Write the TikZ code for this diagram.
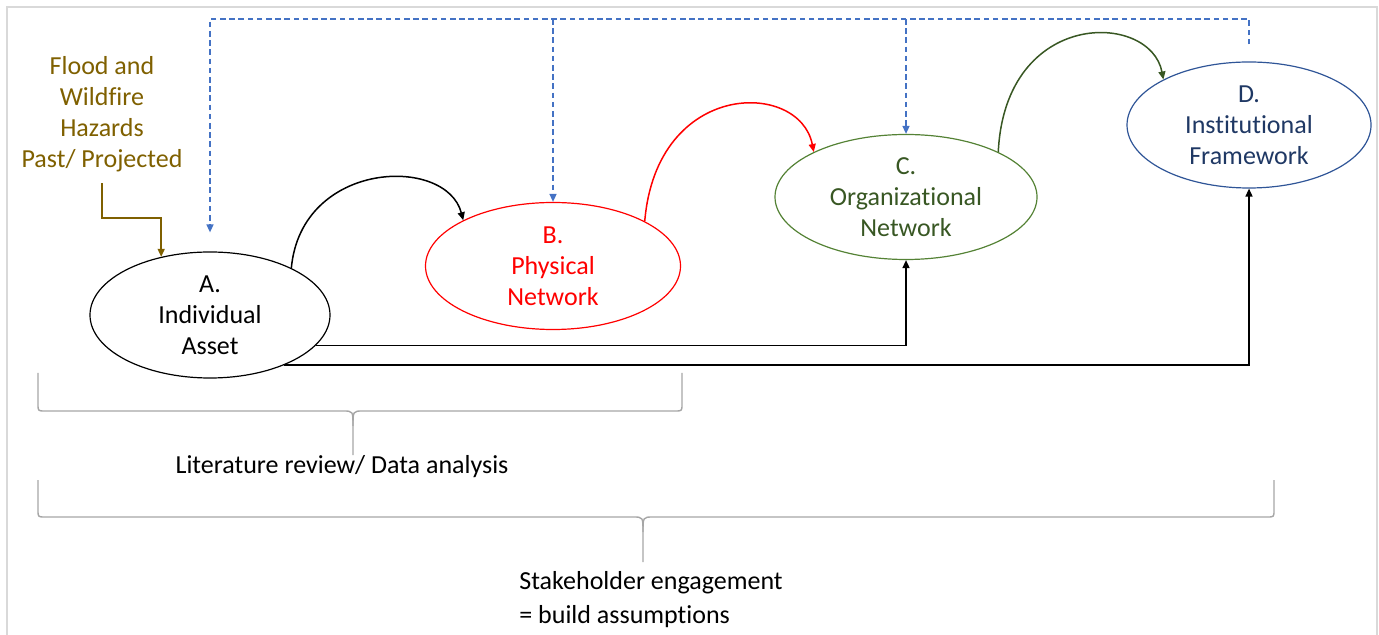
\documentclass[tikz,border=0pt]{standalone}
\usepackage{fontspec}
\setmainfont{Carlito}[Ligatures={NoCommon,NoContextual,NoRare}, Contextuals={NoAlternate}]
\usepackage{tikz}
\usetikzlibrary{shapes.geometric, arrows.meta, positioning, calc}
\definecolor{mydark}{RGB}{0,0,0}
\definecolor{myred}{RGB}{255,0,0}
\definecolor{mygreen}{RGB}{84,130,53}
\definecolor{txtgreen}{RGB}{56,87,35}
\definecolor{myblue}{RGB}{47,85,151}
\definecolor{txtblue}{RGB}{31,56,100}
\definecolor{mydash}{RGB}{68,114,196}
\definecolor{mybrown}{RGB}{127,96,0}
\definecolor{mygray}{RGB}{166,166,166}
\definecolor{lightgray}{RGB}{217,217,217}
\tikzset{
  stage/.style={ellipse, line width=0.6pt, inner sep=0pt, align=center,
    font={\fontsize{13pt}{15.5pt}\selectfont}},
  assetnode/.style={stage, draw=mydark, text=mydark},
  physnode/.style={stage, draw=myred, text=myred},
  orgnode/.style={stage, draw=mygreen, text=txtgreen},
  instnode/.style={stage, draw=myblue, text=txtblue},
  hazard/.style={inner sep=0pt, align=center, text=mybrown,
    font={\fontsize{13pt}{15.5pt}\selectfont}},
  note/.style={inner sep=0pt, font={\fontsize{13pt}{17pt}\selectfont}},
  tip/.style={-{Triangle[length=4pt, width=3.5pt]}},
  arrow/.style={tip, line width=0.75pt, color=mydark},
  redarrow/.style={tip, line width=0.75pt, color=myred},
  greenarrow/.style={tip, line width=0.75pt, color=txtgreen},
  hazarrow/.style={tip, line width=0.75pt, color=mybrown},
  fbarrow/.style={tip, line width=0.75pt, color=mydash, dash pattern=on 2.8pt off 1.8pt},
  bracket/.style={line width=0.7pt, color=mygray},
  frame/.style={line width=0.8pt, color=lightgray}
}

\begin{document}
\begin{tikzpicture}[x=0.5pt, y=-0.5pt]
  \useasboundingbox (0,0) rectangle (1379,635);
  \draw[frame] (7,640) -- (7,7) -- (1377,7) -- (1377,640);

  % Stages
  \node[assetnode, minimum width=120pt, minimum height=63pt] (A) at (210,315) {A.\\Individual\\Asset};
  \node[physnode, minimum width=127.5pt, minimum height=63.5pt] (B) at (553,266) {B.\\Physical\\Network};
  \node[orgnode, minimum width=131pt, minimum height=62.5pt] (C) at (906,197) {C.\\Organizational\\Network};
  \node[instnode, minimum width=122pt, minimum height=63pt] (D) at (1249,125) {D.\\Institutional\\Framework};

  % Hazard input
  \node[hazard] (haz) at (102,114) {Flood and\\Wildfire\\Hazards\\Past/ Projected};
  \draw[hazarrow] ([yshift=-5.5pt]haz.south) -- ++(0,35) -| (A.130);

  % Progression A -> B -> C -> D
  \draw[arrow] (A.30) .. controls +(10,-108) and +(-17,-65) .. (B.153);
  \draw[redarrow] (B.26) .. controls +(12,-142) and +(-14,-72) .. (C.154);
  \draw[greenarrow] (C.26) .. controls +(7,-144) and +(-13,-68) .. (D.152);

  % Direct links from A
  \draw[arrow] (A.-16) -| (C.south);
  \draw[arrow] (A.-34) -| (D.south);

  % Feedback from D
  \coordinate (fb) at (0,19);
  \draw[fbarrow] ([yshift=8.5pt]D.north) -- (D.north |- fb) -| ([yshift=9.5pt]A.north);
  \draw[fbarrow] (B.north |- fb) -- (B.north);
  \draw[fbarrow] (C.north |- fb) -- (C.north);

  % Braces
  \draw[bracket] (38,373) -- (38,404) .. controls (38,411) .. (45,411) -- (343,411)
    .. controls (353,411) .. (353,426) -- (353,455);
  \draw[bracket] (353,426) .. controls (353,411) .. (363,411) -- (675,411)
    .. controls (682,411) .. (682,404) -- (682,373);
  \draw[bracket] (38,480) -- (38,510) .. controls (38,517) .. (45,517) -- (633,517)
    .. controls (643,517) .. (643,532) -- (643,562);
  \draw[bracket] (643,532) .. controls (643,517) .. (653,517) -- (1267,517)
    .. controls (1274,517) .. (1274,510) -- (1274,480);

  % Labels
  \node[note] (lit) at (342,467) {Literature review/ Data analysis};
  \node[note, anchor=west, align=left] (stake) at (519,600) {Stakeholder engagement\\= build assumptions};
\end{tikzpicture}
\end{document}
